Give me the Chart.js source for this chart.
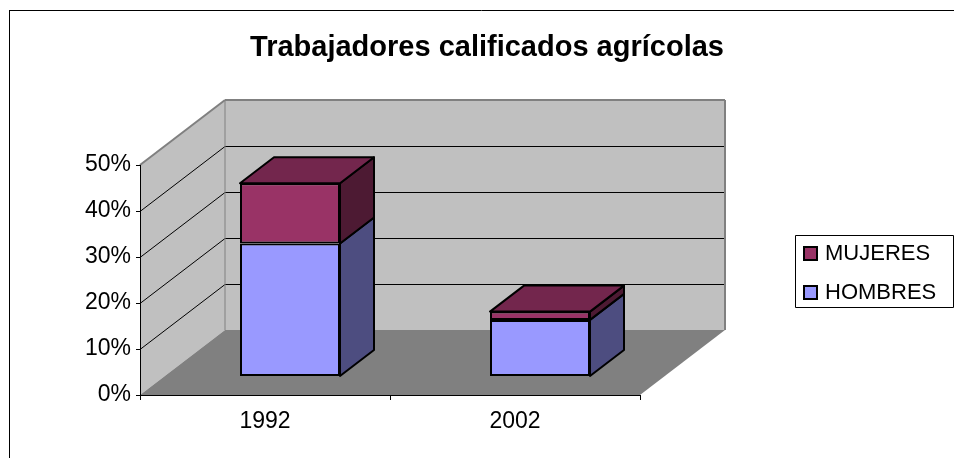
<!DOCTYPE html>
<html>
<head>
<meta charset="utf-8">
<script src="https://cdn.jsdelivr.net/npm/chart.js@4/dist/chart.umd.min.js"></script>
<style>
  html, body { margin: 0; padding: 0; background: #fff; }
  #wrap { position: relative; width: 954px; height: 458px; }
</style>
</head>
<body>
<div id="wrap"><canvas id="chart" width="954" height="458"></canvas></div>
<script>
// data
const years = ['1992', '2002'];
const hombres = [28.8, 12.2];
const mujeres = [13.1, 1.8];
const yMax = 50;
const yStep = 10;
const chartTitle = 'Trabajadores calificados agrícolas';

/*
 * 3D look (Excel style)
 */
const FONT = "'Liberation Sans', Arial, sans-serif";
const DX = 85, DY = -65;          // depth of floor / side wall
const FRONT = 0.29, DEPTH = 0.4;  // where the bars sit inside the depth

const faces = {
	HOMBRES: { front: '#9999FF', side: '#4D4D80', top: '#7373BF' },
	MUJERES: { front: '#993366', side: '#4D1A33', top: '#73264D' }
};

function poly(ctx, pts, fill, stroke, lw) {
	ctx.beginPath();
	ctx.moveTo(pts[0][0], pts[0][1]);
	for (let i = 1; i < pts.length; i++) ctx.lineTo(pts[i][0], pts[i][1]);
	ctx.closePath();
	if (fill) { ctx.fillStyle = fill; ctx.fill(); }
	if (stroke) { ctx.strokeStyle = stroke; ctx.lineWidth = lw || 1; ctx.stroke(); }
}

function line(ctx, x1, y1, x2, y2, color, lw) {
	ctx.beginPath();
	ctx.moveTo(x1, y1);
	ctx.lineTo(x2, y2);
	ctx.strokeStyle = color;
	ctx.lineWidth = lw || 1;
	ctx.stroke();
}

const box3d = {
	id: 'box3d',
	beforeDatasetsDraw(chart) {
		const { ctx, chartArea: a, scales: { x, y } } = chart;
		const L = a.left, R = a.right, T = y.getPixelForValue(yMax), B = y.getPixelForValue(0);

		ctx.save();
		// back wall, side wall, floor
		poly(ctx, [[L + DX, T + DY], [R + DX, T + DY], [R + DX, B + DY], [L + DX, B + DY]], '#C0C0C0');
		poly(ctx, [[L, B], [L, T], [L + DX, T + DY], [L + DX, B + DY]], '#C0C0C0');
		poly(ctx, [[L, B], [R, B], [R + DX, B + DY], [L + DX, B + DY]], '#808080');

		// grid lines
		for (let v = yStep; v < yMax; v += yStep) {
			const py = Math.round(y.getPixelForValue(v)) + 0.5;
			line(ctx, L, py, L + DX, py + DY, '#000');
			line(ctx, L + DX, py + DY, R + DX, py + DY, '#000');
		}

		// wall edges
		line(ctx, L, T, L + DX, T + DY, '#808080', 2);
		line(ctx, L + DX, T + DY, R + DX, T + DY, '#808080', 2);
		line(ctx, R + DX, T + DY, R + DX, B + DY, '#808080', 2);
		line(ctx, L + DX, T + DY, L + DX, B + DY, '#808080', 1);

		// axes
		line(ctx, L + 0.5, T, L + 0.5, B + 0.5, '#000');
		line(ctx, L, B + 0.5, R, B + 0.5, '#000');
		for (let v = 0; v <= yMax; v += yStep) {
			const py = Math.round(y.getPixelForValue(v)) + 0.5;
			line(ctx, L - 4, py, L, py, '#000');
		}
		const n = years.length;
		for (let i = 0; i <= n; i++) {
			const px = Math.round(L + i * (R - L) / n) + 0.5;
			line(ctx, px, B, px, B + 5, '#000');
		}
		ctx.restore();

		// push the bars back into the depth
		ctx.save();
		ctx.translate(Math.round(DX * FRONT), Math.round(DY * FRONT));
	},
	afterDatasetsDraw(chart) {
		const { ctx } = chart;
		const bdx = DX * DEPTH, bdy = DY * DEPTH;
		const last = chart.data.datasets.length - 1;

		chart.data.datasets.forEach((ds, di) => {
			const f = faces[ds.label];
			chart.getDatasetMeta(di).data.forEach(bar => {
				const l = bar.x - bar.width / 2, r = bar.x + bar.width / 2;
				const t = bar.y, b = bar.base;
				ctx.lineJoin = 'round';
				poly(ctx, [[r, t], [r + bdx, t + bdy], [r + bdx, b + bdy], [r, b]], f.side, '#000', 2);
				if (di === last) {
					poly(ctx, [[l, t], [l + bdx, t + bdy], [r + bdx, t + bdy], [r, t]], f.top, '#000', 2);
				}
			});
		});
		ctx.restore();
	},
	afterDraw(chart) {
		const { ctx } = chart;
		ctx.save();

		// title
		ctx.font = 'bold 29px ' + FONT;
		ctx.fillStyle = '#000';
		ctx.textAlign = 'center';
		ctx.textBaseline = 'alphabetic';
		ctx.fillText(chartTitle, 487, 56);

		// legend (reverse order, like Excel)
		poly(ctx, [[795.5, 235.5], [953.5, 235.5], [953.5, 307.5], [795.5, 307.5]], '#fff', '#000', 1);
		ctx.font = '22px ' + FONT;
		ctx.textAlign = 'left';
		ctx.textBaseline = 'middle';
		const items = chart.data.datasets.slice().reverse();
		items.forEach((ds, i) => {
			const cy = 253 + i * 39;
			poly(ctx, [[804, cy - 6], [817, cy - 6], [817, cy + 7], [804, cy + 7]], ds.backgroundColor, '#000', 2);
			ctx.fillStyle = '#000';
			ctx.fillText(ds.label, 825, cy + 1);
		});

		// outer frame
		line(ctx, 9.5, 10, 9.5, 458, '#000');
		line(ctx, 9, 10.5, 954, 10.5, '#000');
		ctx.restore();
	}
};

new Chart(document.getElementById('chart'), {
	type: 'bar',
	data: {
		labels: years,
		datasets: [
			{ label: 'HOMBRES', data: hombres, backgroundColor: faces.HOMBRES.front },
			{ label: 'MUJERES', data: mujeres, backgroundColor: faces.MUJERES.front }
		]
	},
	options: {
		responsive: false,
		animation: false,
		devicePixelRatio: 1,
		layout: { padding: { top: 165, right: 314, left: 0, bottom: 0 } },
		datasets: {
			bar: {
				borderColor: '#000',
				borderWidth: 2,
				borderSkipped: false,
				categoryPercentage: 1,
				barPercentage: 0.4
			}
		},
		plugins: {
			legend: { display: false },
			title: { display: false },
			tooltip: { enabled: false }
		},
		scales: {
			x: {
				stacked: true,
				grid: { display: false, drawTicks: false },
				border: { display: false },
				ticks: { color: '#000', font: { family: FONT, size: 23 }, padding: 13 },
				afterFit: s => { s.height = 63; }
			},
			y: {
				stacked: true,
				min: 0,
				max: yMax,
				grid: { display: false, drawTicks: false },
				border: { display: false },
				ticks: {
					stepSize: yStep,
					color: '#000',
					font: { family: FONT, size: 23 },
					padding: 9,
					callback: v => v + '%'
				},
				afterFit: s => { s.width = 140; }
			}
		}
	},
	plugins: [box3d]
});
</script>
</body>
</html>
